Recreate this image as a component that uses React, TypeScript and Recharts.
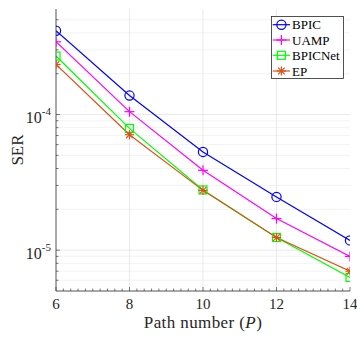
import React from 'react';
import { LineChart, Line, XAxis, YAxis, CartesianGrid, Legend } from 'recharts';

// ---- data ----
const pathNumbers = [6, 8, 10, 12, 14];
const serBPIC = [4.15e-4, 1.38e-4, 5.3e-5, 2.47e-5, 1.18e-5];
const serUAMP = [3.44e-4, 1.05e-4, 3.88e-5, 1.71e-5, 9.0e-6];
const serBPICNet = [2.7e-4, 7.9e-5, 2.78e-5, 1.24e-5, 6.3e-6];
const serEP = [2.34e-4, 7.1e-5, 2.76e-5, 1.24e-5, 7.0e-6];

const xMajorTicks = [6, 8, 10, 12, 14];
const xGridValues = [8, 10, 12];
const yMajorTicks = [1e-5, 1e-4];
const yMinorTicks = [
  6e-6, 7e-6, 8e-6, 9e-6,
  2e-5, 3e-5, 4e-5, 5e-5, 6e-5, 7e-5, 8e-5, 9e-5,
  2e-4, 3e-4, 4e-4, 5e-4,
];
const xDomain = [6, 14];
const yDomain = [5e-6, 6e-4];

// minor x ticks every 0.2
const xAllTicks: number[] = [];
for (let i = 0; i <= 40; i++) xAllTicks.push(Math.round((6 + i * 0.2) * 10) / 10);
const yAllTicks = [...yMinorTicks, ...yMajorTicks].sort((a, b) => a - b);

const series = [
  { key: 'bpic', name: 'BPIC', color: '#0000FF', marker: 'circle', values: serBPIC },
  { key: 'uamp', name: 'UAMP', color: '#FF00FF', marker: 'plus', values: serUAMP },
  { key: 'bpicnet', name: 'BPICNet', color: '#00FF00', marker: 'square', values: serBPICNet },
  { key: 'ep', name: 'EP', color: '#D95319', marker: 'star', values: serEP },
];

const rows = pathNumbers.map((p, i) => {
  const r: Record<string, number> = { p };
  series.forEach((s) => (r[s.key] = s.values[i]));
  return r;
});

const AXIS = '#262626';
const FONT = "'Liberation Serif', 'Times New Roman', Times, serif";
const fontStyle = (size: number) => ({ fontFamily: FONT, fontSize: size });

const isMajorX = (v: number) => xMajorTicks.some((m) => Math.abs(m - v) < 1e-6);
const isMajorY = (v: number) => yMajorTicks.some((m) => Math.abs(m - v) / m < 1e-6);

function Marker({ type, cx, cy, color }: { type: string; cx: number; cy: number; color: string }) {
  const sw = 1.2;
  if (type === 'circle') return <circle cx={cx} cy={cy} r={4.6} fill="none" stroke={color} strokeWidth={sw} />;
  if (type === 'square') return <rect x={cx - 4} y={cy - 4} width={8} height={8} fill="none" stroke={color} strokeWidth={sw} />;
  if (type === 'plus')
    return (
      <g stroke={color} strokeWidth={sw}>
        <line x1={cx - 5} x2={cx + 5} y1={cy} y2={cy} />
        <line x1={cx} x2={cx} y1={cy - 5} y2={cy + 5} />
      </g>
    );
  const d = 3.3;
  return (
    <g stroke={color} strokeWidth={sw}>
      <line x1={cx - 4.6} x2={cx + 4.6} y1={cy} y2={cy} />
      <line x1={cx} x2={cx} y1={cy - 4.6} y2={cy + 4.6} />
      <line x1={cx - d} x2={cx + d} y1={cy - d} y2={cy + d} />
      <line x1={cx - d} x2={cx + d} y1={cy + d} y2={cy - d} />
    </g>
  );
}

const BottomTick = (props: any) => {
  const { x, y, payload } = props;
  const v = payload.value;
  const major = isMajorX(v);
  return (
    <g>
      <line x1={x} x2={x} y1={y} y2={y - (major ? 4 : 2.5)} stroke={AXIS} strokeWidth={0.6} />
      {major && (
        <text x={x} y={y + 18} textAnchor="middle" style={fontStyle(15)} fill={AXIS}>
          {v}
        </text>
      )}
    </g>
  );
};

const TopTick = (props: any) => {
  const { x, y, payload } = props;
  const major = isMajorX(payload.value);
  return <line x1={x} x2={x} y1={y} y2={y + (major ? 4 : 2.5)} stroke={AXIS} strokeWidth={0.6} />;
};

const LeftTick = (props: any) => {
  const { x, y, payload } = props;
  const v = payload.value;
  const major = isMajorY(v);
  const exp = major ? (v < 5e-5 ? '-5' : '-4') : '';
  return (
    <g>
      <line x1={x} x2={x + (major ? 4 : 2.5)} y1={y} y2={y} stroke={AXIS} strokeWidth={0.6} />
      {major && (
        <text x={x - 5} y={y + 8.5} textAnchor="end" style={fontStyle(16)} fill={AXIS}>
          <tspan>10</tspan>
          <tspan dy={-7.7} style={{ fontSize: 11 }}>
            {exp}
          </tspan>
        </text>
      )}
    </g>
  );
};

const RightTick = (props: any) => {
  const { x, y, payload } = props;
  const major = isMajorY(payload.value);
  return <line x1={x} x2={x - (major ? 4 : 2.5)} y1={y} y2={y} stroke={AXIS} strokeWidth={0.6} />;
};

const LegendBox = () => {
  const rowsY = [8.7, 24, 39.3, 55];
  return (
    <svg width={74} height={64} style={{ display: 'block' }}>
      <rect x={0.5} y={0.5} width={72} height={62} fill="#FFFFFF" stroke={AXIS} strokeWidth={0.8} />
      {series.map((s, i) => (
        <g key={s.key}>
          <line x1={1.7} x2={19} y1={rowsY[i]} y2={rowsY[i]} stroke={s.color} strokeWidth={1.2} />
          <Marker type={s.marker} cx={10.4} cy={rowsY[i]} color={s.color} />
          <text x={21} y={rowsY[i] + 4.5} style={fontStyle(13)} fill="#000000">
            {s.name}
          </text>
        </g>
      ))}
    </svg>
  );
};

export default function App() {
  return (
    <div style={{ position: 'absolute', left: 0, top: 0, width: 357, height: 337, background: '#FFFFFF' }}>
      <LineChart width={357} height={337} data={rows} margin={{ top: 9, right: 7, bottom: 0, left: 0 }}>
        <CartesianGrid horizontalValues={yMinorTicks} vertical={false} stroke="#EBEBEB" strokeWidth={0.6} />
        <CartesianGrid horizontalValues={yMajorTicks} verticalValues={xGridValues} stroke="#DCDCDC" strokeWidth={0.6} />
        <XAxis
          dataKey="p"
          type="number"
          domain={xDomain}
          ticks={xAllTicks}
          interval={0}
          height={46}
          tickSize={0}
          tickMargin={0}
          tickLine={false}
          tick={<BottomTick />}
          axisLine={{ stroke: AXIS, strokeWidth: 0.8 }}
          allowDataOverflow
          label={{
            content: (p: any) => {
              const vb = p.viewBox;
              return (
                <text x={vb.x + vb.width / 2} y={vb.y + 36.5} textAnchor="middle" style={{ ...fontStyle(17), letterSpacing: 0.4 }} fill={AXIS}>
                  Path number (<tspan fontStyle="italic">P</tspan>)
                </text>
              );
            },
          }}
        />
        <XAxis
          xAxisId="top"
          orientation="top"
          dataKey="p"
          type="number"
          domain={xDomain}
          ticks={xAllTicks}
          interval={0}
          height={0}
          tickSize={0}
          tickMargin={0}
          tickLine={false}
          tick={<TopTick />}
          axisLine={{ stroke: AXIS, strokeWidth: 0.8 }}
          allowDataOverflow
        />
        <YAxis
          type="number"
          scale="log"
          domain={yDomain}
          ticks={yAllTicks}
          interval={0}
          width={56}
          tickSize={0}
          tickMargin={0}
          tickLine={false}
          tick={<LeftTick />}
          axisLine={{ stroke: AXIS, strokeWidth: 0.8 }}
          allowDataOverflow
          label={{
            content: (p: any) => {
              const vb = p.viewBox;
              const cy = vb.y + vb.height / 2;
              return (
                <text x={17} y={cy} dy="0.35em" textAnchor="middle" transform={`rotate(-90, 17, ${cy})`} style={fontStyle(17)} fill={AXIS}>
                  SER
                </text>
              );
            },
          }}
        />
        <YAxis
          yAxisId="right"
          orientation="right"
          type="number"
          scale="log"
          domain={yDomain}
          ticks={yAllTicks}
          interval={0}
          width={0}
          tickSize={0}
          tickMargin={0}
          tickLine={false}
          tick={<RightTick />}
          axisLine={{ stroke: AXIS, strokeWidth: 0.8 }}
          allowDataOverflow
        />
        {series.map((s) => (
          <Line
            key={s.key}
            dataKey={s.key}
            name={s.name}
            stroke={s.color}
            strokeWidth={1.2}
            isAnimationActive={false}
            activeDot={false}
            dot={(p: any) => <Marker key={`${s.key}-${p.index}`} type={s.marker} cx={p.cx} cy={p.cy} color={s.color} />}
          />
        ))}
        <Legend
          layout="horizontal"
          verticalAlign="middle"
          align="center"
          content={() => <LegendBox />}
          wrapperStyle={{ left: 271, top: 16, width: 74, height: 64 }}
        />
      </LineChart>
    </div>
  );
}
